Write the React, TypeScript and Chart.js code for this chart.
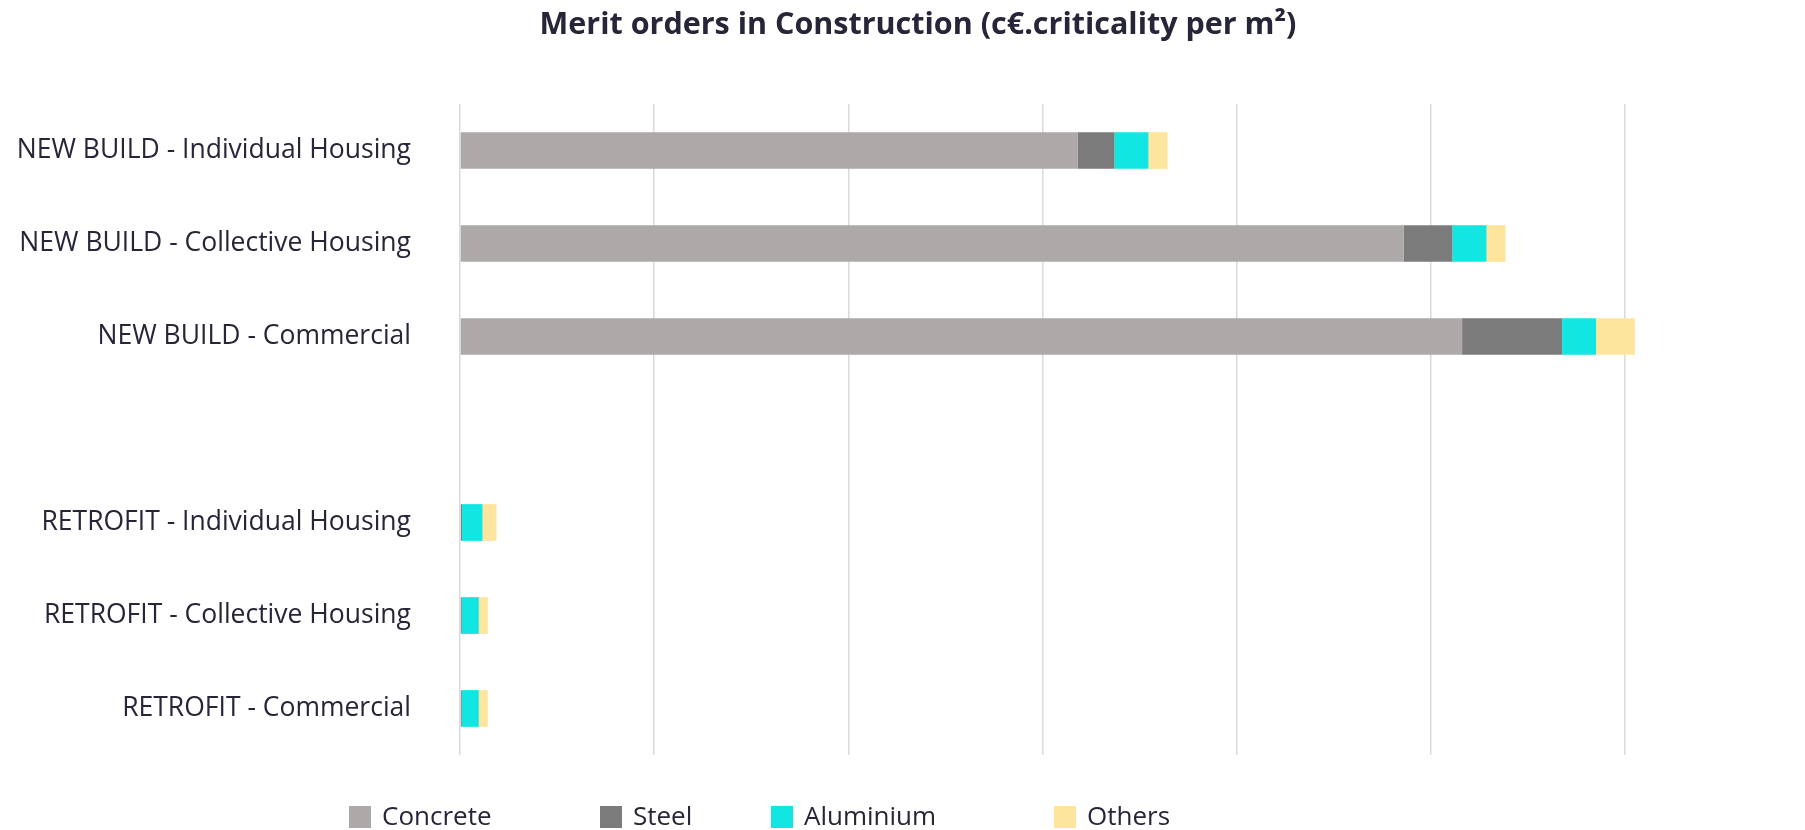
import React, { useEffect, useRef } from "react";
import { Chart, registerables } from "chart.js";

Chart.register(...registerables);

// ---- Data ----
const categories = [
  "NEW BUILD - Individual Housing",
  "NEW BUILD - Collective Housing",
  "NEW BUILD - Commercial",
  "",
  "RETROFIT - Individual Housing",
  "RETROFIT - Collective Housing",
  "RETROFIT - Commercial",
];
const seriesNames = ["Concrete", "Steel", "Aluminium", "Others"];
const concrete = [31.8, 48.6, 51.6, null, 0.05, 0.05, 0.05];
const steel = [1.9, 2.5, 5.15, null, 0.05, 0.04, 0.04];
const aluminium = [1.75, 1.76, 1.75, null, 1.06, 0.88, 0.88];
const others = [0.98, 0.98, 2.0, null, 0.72, 0.46, 0.46];
const gridStep = 10;
const axisMax = 69;

const titleText = "Merit orders in Construction (c€.criticality per m²)";

const colors = ["#ADA9A8", "#7B7B7B", "#12E6E3", "#FEE59D"];
const textColor = "#262638";
const fontFamily = "'Open Sans', 'Noto Sans', sans-serif";

const customLegend = {
  id: "customLegend",
  afterLayout(chart: any) {
    // the reference title sits slightly right of the canvas centre
    if (chart.titleBlock) {
      chart.titleBlock.left += 18;
      chart.titleBlock.right += 18;
    }
  },
  afterDraw(chart: any, _args: any, opts: any) {
    const ctx = chart.ctx;
    ctx.save();
    ctx.font = `${opts.fontSize}px ${fontFamily}`;
    ctx.textBaseline = "middle";
    ctx.textAlign = "left";
    chart.data.datasets.forEach((ds: any, i: number) => {
      const x = opts.starts[i];
      const cy = opts.centerY;
      ctx.fillStyle = ds.backgroundColor;
      ctx.fillRect(x, cy - opts.box / 2, opts.box, opts.box);
      ctx.fillStyle = textColor;
      ctx.fillText(ds.label, x + opts.box + opts.gap, cy + 1);
    });
    ctx.restore();
  },
};

export default function App() {
  const ref = useRef<HTMLCanvasElement>(null);
  useEffect(() => {
    document.body.style.margin = "0";
    const series = [concrete, steel, aluminium, others];
    const chart = new Chart(ref.current!, {
      type: "bar",
      data: {
        labels: categories,
        datasets: seriesNames.map((name, i) => ({
          label: name,
          data: series[i],
          backgroundColor: colors[i],
          borderWidth: 0,
          categoryPercentage: 1,
          barPercentage: 0.395,
        })),
      },
      options: {
        indexAxis: "y",
        responsive: false,
        animation: false,
        layout: { padding: { left: 0, right: 5, top: 0, bottom: 0 } },
        plugins: {
          legend: { display: false },
          tooltip: { enabled: false },
          title: {
            display: true,
            text: titleText,
            color: textColor,
            font: { family: fontFamily, size: 30.5, weight: "bold" },
            padding: { top: 7, bottom: 60.4 },
          },
          customLegend: {
            starts: [349, 600, 771, 1054],
            centerY: 817,
            box: 22,
            gap: 11,
            fontSize: 26,
          },
        } as any,
        scales: {
          x: {
            stacked: true,
            min: 0,
            max: axisMax,
            ticks: { display: false, stepSize: gridStep },
            border: { display: false },
            grid: {
              drawTicks: false,
              lineWidth: 1.5,
              color: (c: any) =>
                c.tick && c.tick.value % gridStep === 0 ? "#DADADA" : "rgba(0,0,0,0)",
            },
            afterFit: (s: any) => {
              s.height = 75;
            },
          },
          y: {
            stacked: true,
            border: { display: false },
            grid: { display: false, drawTicks: false },
            ticks: {
              color: textColor,
              padding: 49,
              font: { family: fontFamily, size: 26.5 },
            },
            afterFit: (s: any) => {
              s.width = 460;
            },
          },
        },
      },
      plugins: [customLegend],
    });
    return () => chart.destroy();
  }, []);
  return (
    <canvas
      ref={ref}
      width={1805}
      height={830}
      style={{ display: "block", width: 1805, height: 830 }}
    />
  );
}
